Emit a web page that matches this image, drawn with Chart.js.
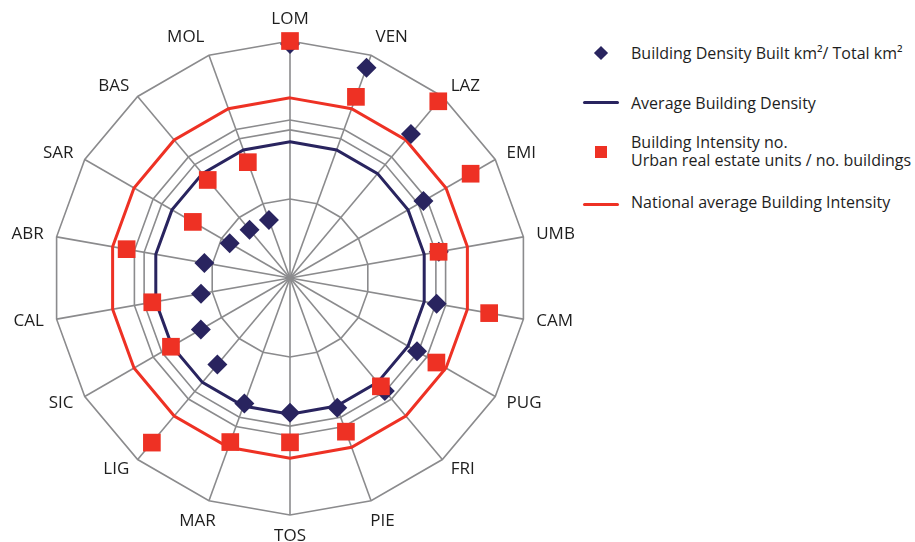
<!DOCTYPE html>
<html><head><meta charset="utf-8">
<script src="https://cdn.jsdelivr.net/npm/chart.js@4.4.1/dist/chart.umd.min.js"></script>
<style>
html,body{margin:0;padding:0;background:#fff;width:915px;height:542px;overflow:hidden;font-family:"Open Sans",sans-serif;}
#wrap{position:absolute;left:0;top:0;width:580px;height:542px;}
.txt{position:absolute;left:631px;font-size:16px;color:#1e1e1e;line-height:18px;white-space:nowrap;}
.mk{position:absolute;}
</style></head><body>
<div id="wrap"><canvas id="c" width="580" height="542"></canvas></div>
<div id="legend"></div>
<script>
const categories = ['LOM','VEN','LAZ','EMI','UMB','CAM','PUG','FRI','PIE','TOS','MAR','LIG','SIC','CAL','ABR','SAR','BAS','MOL'];
// Building density (built km2 / total km2)
const buildingDensity = [0.158,0.151,0.127,0.104,0.102,0.1005,0.099,0.0996,0.0933,0.0909,0.0901,0.0763,0.0695,0.061,0.0587,0.047,0.0425,0.0416];
// Building intensity (urban real estate units / no. buildings)
const buildingIntensity = [3.00,2.44,2.92,2.64,1.91,2.56,2.14,1.79,2.07,2.08,2.21,2.72,1.74,1.77,2.10,1.42,1.62,1.56];
const avgBuildingDensity = 0.092;
const nationalAvgIntensity = 2.28;
const intensityTicks = [0,1,2,3];
const densityTicks = [0,0.10];
const seriesNames = ['Building Density Built km\u00B2/ Total km\u00B2','Average Building Density','Building Intensity no.\nUrban real estate units / no. buildings','National average Building Intensity'];

const NAVY = '#29245f', RED = '#ee3124', GRID = '#8b8b8d', TXT = '#1e1e1e';
const labelGap = 13;

const labelPlugin = {
  id: 'regionLabels',
  afterDraw(chart) {
    const s = chart.scales.r;
    const ctx = chart.ctx;
    ctx.save();
    ctx.font = '17px "Open Sans", sans-serif';
    ctx.fillStyle = TXT;
    const n = categories.length;
    categories.forEach((lab, i) => {
      const deg = i * 360 / n;
      const p = s.getPointPosition(i, s.drawingArea + labelGap);
      let align, base = 'middle', x = p.x, y = p.y;
      if (deg === 0) { align = 'center'; base = 'bottom'; }
      else if (deg === 180) { align = 'center'; base = 'top'; }
      else if (deg < 30) { align = 'left'; base = 'bottom'; y += 3; }
      else if (deg > 330) { align = 'right'; base = 'bottom'; y += 3; }
      else if (deg > 150 && deg < 180) { align = 'center'; base = 'top'; x += 7; }
      else if (deg > 180 && deg < 210) { align = 'center'; base = 'top'; x -= 7; }
      else { align = deg < 180 ? 'left' : 'right'; }
      ctx.textAlign = align; ctx.textBaseline = base;
      ctx.fillText(lab, x, y);
    });
    ctx.restore();
  }
};

new Chart(document.getElementById('c'), {
  type: 'radar',
  data: {
    labels: categories,
    datasets: [
      {label: seriesNames[2], data: buildingIntensity, rAxisID: 'r', showLine: false, fill: false,
       pointStyle: 'rect', pointRadius: 12.5, pointHoverRadius: 12.5, pointBackgroundColor: RED, pointBorderColor: RED, pointBorderWidth: 0, borderColor: RED, backgroundColor: RED, order: 0},
      {label: seriesNames[0], data: buildingDensity, rAxisID: 'rD', showLine: false, fill: false,
       pointStyle: 'rectRot', pointRadius: 10, pointHoverRadius: 10, pointBackgroundColor: NAVY, pointBorderColor: NAVY, pointBorderWidth: 0, borderColor: NAVY, backgroundColor: NAVY, order: 1},
      {label: seriesNames[3], data: categories.map(() => nationalAvgIntensity), rAxisID: 'r', fill: false,
       borderColor: RED, backgroundColor: RED, borderWidth: 3, pointRadius: 0, pointHoverRadius: 0, order: 2},
      {label: seriesNames[1], data: categories.map(() => avgBuildingDensity), rAxisID: 'rD', fill: false,
       borderColor: NAVY, backgroundColor: NAVY, borderWidth: 3, pointRadius: 0, pointHoverRadius: 0, order: 3}
    ]
  },
  options: {
    responsive: false, animation: false,
    layout: {padding: {top: 41, bottom: 27, left: 53, right: 53}},
    plugins: {legend: {display: false}, tooltip: {enabled: false}},
    elements: {line: {tension: 0, borderJoinStyle: 'miter'}},
    scales: {
      r: {min: 0, max: 3, ticks: {display: false, stepSize: 1},
          afterBuildTicks: sc => { sc.ticks = intensityTicks.map(v => ({value: v})); },
          grid: {color: GRID, lineWidth: 1.6}, angleLines: {color: GRID, lineWidth: 1.6},
          pointLabels: {display: false}},
      rD: {type: 'radialLinear', min: 0, max: 0.16, ticks: {display: false, stepSize: 0.02},
          afterBuildTicks: sc => { sc.ticks = densityTicks.map(v => ({value: v})); },
          grid: {color: GRID, lineWidth: 1.6}, angleLines: {display: false},
          pointLabels: {display: false}}
    }
  },
  plugins: [labelPlugin]
});

// HTML legend
const lg = document.getElementById('legend');
function add(html){ lg.insertAdjacentHTML('beforeend', html); }
add(`<div class="mk" style="left:596px;top:48px;width:10px;height:10px;background:${NAVY};transform:rotate(45deg);"></div>`);
add(`<div class="txt" style="top:44px;">${seriesNames[0]}</div>`);
add(`<div class="mk" style="left:583px;top:101px;width:36px;height:3px;background:${NAVY};border-radius:1.5px;"></div>`);
add(`<div class="txt" style="top:94px;">${seriesNames[1]}</div>`);
add(`<div class="mk" style="left:595px;top:146px;width:12px;height:12px;background:${RED};"></div>`);
add(`<div class="txt" style="top:133px;">${seriesNames[2].replace('\n','<br>')}</div>`);
add(`<div class="mk" style="left:583px;top:203px;width:36px;height:3px;background:${RED};border-radius:1.5px;"></div>`);
add(`<div class="txt" style="top:193px;">${seriesNames[3]}</div>`);
</script>
</body></html>
